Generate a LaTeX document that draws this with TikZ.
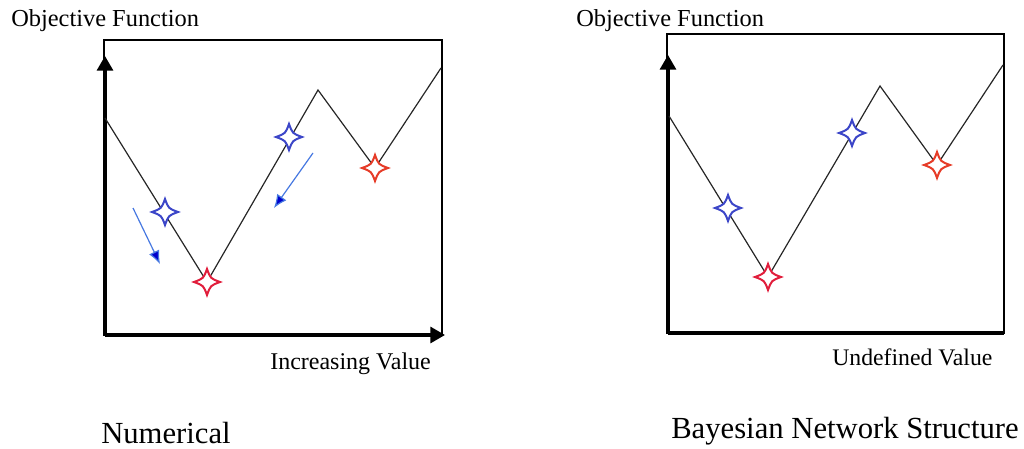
\documentclass[tikz,border=0pt]{standalone}
\usepackage{fontspec}
\setmainfont{Liberation Serif}
\usetikzlibrary{arrows.meta}
\definecolor{starblue}{RGB}{60,70,200}
\definecolor{starred}{RGB}{225,30,60}
\definecolor{starorange}{RGB}{230,60,40}
\definecolor{arrowblue}{RGB}{70,120,225}
\begin{document}
\begin{tikzpicture}[x=0.75pt,y=-0.75pt,
  frame/.style={line width=1.1pt,black},
  axis/.style={line width=2.3pt,black},
  axisarrow/.style={axis,-{Triangle[length=11pt,width=12pt]}},
  curve/.style={line width=0.9pt,black!85},
  movearrow/.style={line width=0.9pt,arrowblue,-{Latex[length=10pt,width=8.5pt,fill=blue!80!black]}},
  smalllabel/.style={inner sep=0pt,anchor=base west,font=\fontsize{18.3pt}{20pt}\selectfont},
  biglabel/.style={inner sep=0pt,anchor=base west,font=\fontsize{23pt}{26pt}\selectfont},
  fourstar/.pic={\draw[pic actions,fill=white,line width=1.5pt]
    (13,0) .. controls (3.5,-3.5) .. (0,-13) .. controls (-3.5,-3.5) .. (-13,0)
    .. controls (-3.5,3.5) .. (0,13) .. controls (3.5,3.5) .. (13,0) -- cycle;}
]
\useasboundingbox (0,0) rectangle (1024,449);

% ---------- left panel ----------
\node[smalllabel] (objL) at (11,27) {Objective Function};
\coordinate (oL) at (105,335);
\coordinate (tyL) at (105,56);
\coordinate (txL) at (445,335);
\draw[frame] (104,40) rectangle (442,335);
\draw[axisarrow] (oL) -- (tyL);
\draw[axisarrow] (oL) -- (txL);

\coordinate (a0) at (105,118);
\coordinate (a1) at (207,282);
\coordinate (a2) at (318,90);
\coordinate (a3) at (375,168);
\coordinate (a4) at (441,68);
\draw[curve] (a0) -- (a1) -- (a2) -- (a3) -- (a4);

\coordinate (bs1) at (165,212);
\coordinate (bs2) at (289,137);
\pic[draw=starblue] at (bs1) {fourstar};
\pic[draw=starblue] at (bs2) {fourstar};
\pic[draw=starred] at (a1) {fourstar};
\pic[draw=starorange] at (a3) {fourstar};

\coordinate (m1s) at (133,208);
\coordinate (m1e) at (160,264);
\coordinate (m2s) at (313,153);
\coordinate (m2e) at (274,208);
\draw[movearrow] (m1s) -- (m1e);
\draw[movearrow] (m2s) -- (m2e);

\node[smalllabel,font=\fontsize{18pt}{20pt}\selectfont] (incL) at (270,369) {Increasing Value};
\node[biglabel] (numL) at (101,443) {Numerical};

% ---------- right panel ----------
\node[smalllabel] (objR) at (576,27) {Objective Function};
\coordinate (oR) at (668,333);
\coordinate (tyR) at (668,55);
\coordinate (txR) at (1004,333);
\draw[frame] (667,34) rectangle (1004,333);
\draw[axisarrow] (oR) -- (tyR);
\draw[axis] (oR) -- (txR);

\coordinate (b0) at (669,116);
\coordinate (b1) at (768,277);
\coordinate (b2) at (880,86);
\coordinate (b3) at (937,165);
\coordinate (b4) at (1003,65);
\draw[curve] (b0) -- (b1) -- (b2) -- (b3) -- (b4);

\coordinate (cs1) at (728,208);
\coordinate (cs2) at (852,133);
\pic[draw=starblue] at (cs1) {fourstar};
\pic[draw=starblue] at (cs2) {fourstar};
\pic[draw=starred] at (b1) {fourstar};
\pic[draw=starorange] at (b3) {fourstar};

\node[smalllabel,font=\fontsize{17.8pt}{20pt}\selectfont] (undR) at (832,365) {Undefined Value};
\node[biglabel] (bayR) at (671,438) {Bayesian Network Structure};
\end{tikzpicture}
\end{document}
